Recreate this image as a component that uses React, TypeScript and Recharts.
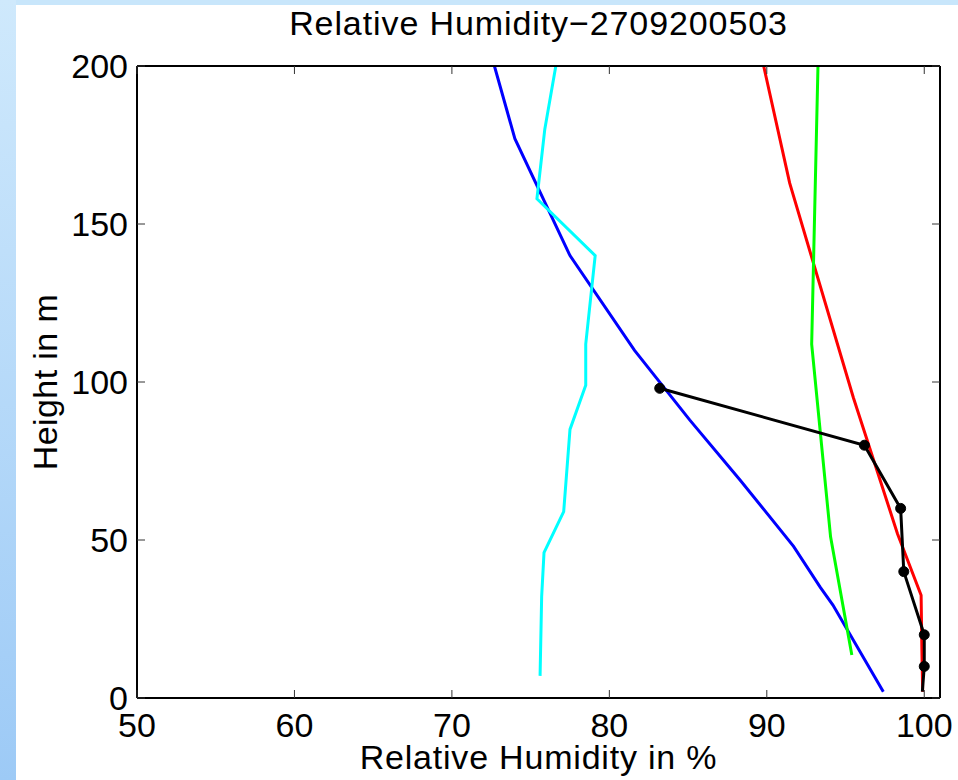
import React from 'react';
import { LineChart, Line, XAxis, YAxis, Label } from 'recharts';

// ---- Data ----
const xTicks = [50, 60, 70, 80, 90, 100];
const yTicks = [0, 50, 100, 150, 200];

const blueRH = [72.7, 74.0, 77.5, 81.6, 85.1, 88.3, 91.7, 93.4, 94.2, 97.4];
const blueH = [200, 177, 140, 110, 88, 69, 48, 35, 29.4, 2];

const cyanRH = [76.6, 75.9, 75.4, 79.1, 78.5, 78.5, 77.5, 77.1, 75.85, 75.7, 75.6];
const cyanH = [200, 180, 158, 140, 112, 99, 85, 59, 46, 32, 7];

const redRH = [89.8, 91.45, 95.5, 98.3, 99.8, 99.85, 99.9];
const redH = [200, 163, 95, 52, 32.5, 15, 2];

const greenRH = [93.25, 92.85, 94.05, 95.4];
const greenH = [200, 112, 51, 13.6];

const blackRH = [83.2, 96.2, 98.5, 98.7, 100.0, 100.0, 99.88];
const blackH = [98, 80, 60, 40, 20, 10, 2];
const blackMarker = [true, true, true, true, true, true, false];

const toPts = (rh: number[], h: number[]) => rh.map((v, i) => ({ rh: v, h: h[i] }));

const blueData = toPts(blueRH, blueH);
const cyanData = toPts(cyanRH, cyanH);
const redData = toPts(redRH, redH);
const greenData = toPts(greenRH, greenH);
const blackData = blackRH.map((v, i) => ({ rh: v, h: blackH[i], marker: blackMarker[i] }));

const FONT = '"Liberation Sans", Arial, Helvetica, sans-serif';
const TICK_LEN = 8;

const BottomTick = (props: any) => {
  const { x, y, payload } = props;
  return (
    <g>
      <line x1={x} y1={y} x2={x} y2={y - TICK_LEN} stroke="#333" strokeWidth={1} />
      <text x={x} y={y + 39} textAnchor="middle" fontFamily={FONT} fontSize={34} fill="#000">
        {payload.value}
      </text>
    </g>
  );
};

const LeftTick = (props: any) => {
  const { x, y, payload } = props;
  return (
    <g>
      <line x1={x} y1={y} x2={x + TICK_LEN} y2={y} stroke="#333" strokeWidth={1} />
      <text x={x - 9} y={y + 12} textAnchor="end" fontFamily={FONT} fontSize={34} fill="#000">
        {payload.value}
      </text>
    </g>
  );
};

const TopTick = (props: any) => {
  const { x, y } = props;
  return <line x1={x} y1={y} x2={x} y2={y + TICK_LEN} stroke="#333" strokeWidth={1} />;
};

const RightTick = (props: any) => {
  const { x, y } = props;
  return <line x1={x} y1={y} x2={x - TICK_LEN} y2={y} stroke="#333" strokeWidth={1} />;
};

const BlackDot = (props: any) => {
  const { cx, cy, payload, index } = props;
  if (!payload || !payload.marker) return <g key={`d${index}`} />;
  return <circle key={`d${index}`} cx={cx} cy={cy} r={5} fill="#000" stroke="#000" />;
};

export default function App() {
  return (
    <div style={{ position: 'absolute', left: 0, top: 0, width: 958, height: 780, background: '#fff', overflow: 'hidden' }}>
      <div style={{ position: 'absolute', left: 0, top: 0, width: 958, height: 5, background: '#c8e6fb' }} />
      <div
        style={{
          position: 'absolute',
          left: 0,
          top: 0,
          width: 16,
          height: 780,
          background: 'linear-gradient(#cfe9fc, #9dcaf6)',
        }}
      />
      <div style={{ position: 'absolute', left: 0, top: 0 }}>
        <LineChart width={958} height={780} margin={{ top: 0, right: 0, bottom: 0, left: 0 }}>
          <XAxis
            xAxisId="b"
            type="number"
            dataKey="rh"
            domain={[50, 101]}
            allowDataOverflow
            ticks={xTicks}
            interval={0}
            height={82}
            tickSize={0}
            tickMargin={0}
            tickLine={false}
            tick={<BottomTick />}
            axisLine={{ stroke: '#000', strokeWidth: 2 }}
          >
            <Label
              value="Relative Humidity in %"
              position="insideBottom"
              offset={11}
              style={{ fontFamily: FONT, fontSize: 34, fill: '#000', letterSpacing: 0.8 }}
            />
          </XAxis>
          <XAxis
            xAxisId="t"
            orientation="top"
            type="number"
            dataKey="rh"
            domain={[50, 101]}
            allowDataOverflow
            ticks={xTicks}
            interval={0}
            height={66}
            tickSize={0}
            tickMargin={0}
            tickLine={false}
            tick={<TopTick />}
            axisLine={{ stroke: '#000', strokeWidth: 2 }}
          />
          <YAxis
            yAxisId="l"
            type="number"
            dataKey="h"
            domain={[0, 200]}
            allowDataOverflow
            ticks={yTicks}
            interval={0}
            width={137}
            tickSize={0}
            tickMargin={0}
            tickLine={false}
            tick={<LeftTick />}
            axisLine={{ stroke: '#000', strokeWidth: 2 }}
          >
            <Label
              value="Height in m"
              angle={-90}
              position="insideLeft"
              offset={45}
              style={{ fontFamily: FONT, fontSize: 34, fill: '#000', letterSpacing: 0.4, textAnchor: 'middle' }}
            />
          </YAxis>
          <YAxis
            yAxisId="r"
            orientation="right"
            type="number"
            dataKey="h"
            domain={[0, 200]}
            allowDataOverflow
            ticks={yTicks}
            interval={0}
            width={18}
            tickSize={0}
            tickMargin={0}
            tickLine={false}
            tick={<RightTick />}
            axisLine={{ stroke: '#000', strokeWidth: 2 }}
          />
          <Line xAxisId="b" yAxisId="l" data={blueData} dataKey="h" type="linear" stroke="#0000ff" strokeWidth={3} dot={false} activeDot={false} isAnimationActive={false} />
          <Line xAxisId="b" yAxisId="l" data={cyanData} dataKey="h" type="linear" stroke="#00ffff" strokeWidth={3} dot={false} activeDot={false} isAnimationActive={false} />
          <Line xAxisId="b" yAxisId="l" data={redData} dataKey="h" type="linear" stroke="#ff0000" strokeWidth={3} dot={false} activeDot={false} isAnimationActive={false} />
          <Line xAxisId="b" yAxisId="l" data={greenData} dataKey="h" type="linear" stroke="#00ff00" strokeWidth={3} dot={false} activeDot={false} isAnimationActive={false} />
          <Line xAxisId="b" yAxisId="l" data={blackData} dataKey="h" type="linear" stroke="#000000" strokeWidth={3} dot={<BlackDot />} activeDot={false} isAnimationActive={false} />
        </LineChart>
      </div>
      <svg width={958} height={60} style={{ position: 'absolute', left: 0, top: 0, pointerEvents: 'none' }}>
        <text x={538.5} y={35} textAnchor="middle" fontFamily={FONT} fontSize={34} letterSpacing={0.9} fill="#000">
          Relative Humidity−2709200503
        </text>
      </svg>
    </div>
  );
}
